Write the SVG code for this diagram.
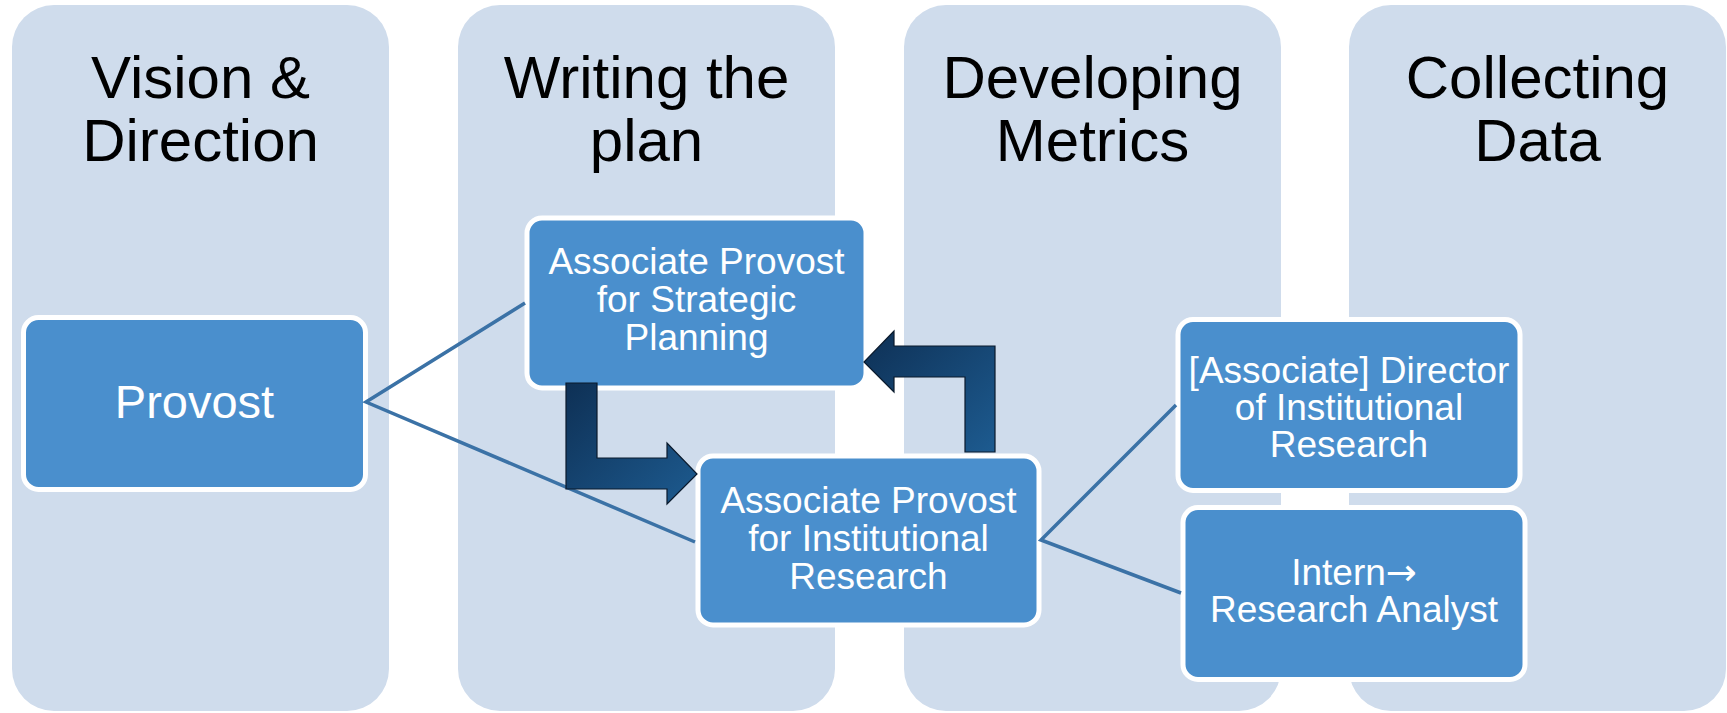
<svg xmlns="http://www.w3.org/2000/svg" width="1727" height="713" viewBox="0 0 1727 713">
<defs>
<style>
.col{fill:#cfdcec;}
.title{font-family:"Liberation Sans",Arial,sans-serif;font-size:60px;fill:#000;text-anchor:middle;}
.box{fill:#4a8fcd;stroke:#ffffff;stroke-width:5;}
.lbl{font-family:"Liberation Sans",Arial,sans-serif;font-size:37px;fill:#ffffff;text-anchor:middle;}
.arr{font-family:"DejaVu Sans",sans-serif;}
.line{fill:none;stroke:#3b72a6;stroke-width:3.5;}
.barrow{fill:url(#grad);stroke:#0a1a2c;stroke-width:1.2;stroke-linejoin:miter;}
</style>
<linearGradient id="grad" x1="0" y1="0" x2="1" y2="1">
<stop offset="0" stop-color="#0e3055"/>
<stop offset="1" stop-color="#1d5b90"/>
</linearGradient>
</defs>
<rect width="1727" height="713" fill="#ffffff"/>
<g id="col-vision">
<rect class="col" x="12" y="5" width="377" height="706" rx="42"/>
<text class="title" x="200.5" y="98">Vision &amp;</text>
<text class="title" x="200.5" y="161">Direction</text>
</g>
<g id="col-writing">
<rect class="col" x="458" y="5" width="377" height="706" rx="42"/>
<text class="title" x="646.5" y="98">Writing the</text>
<text class="title" x="646.5" y="161">plan</text>
</g>
<g id="col-metrics">
<rect class="col" x="904" y="5" width="377" height="706" rx="42"/>
<text class="title" x="1092.5" y="98">Developing</text>
<text class="title" x="1092.5" y="161">Metrics</text>
</g>
<g id="col-data">
<rect class="col" x="1349" y="5" width="377" height="706" rx="42"/>
<text class="title" x="1537.5" y="98">Collecting</text>
<text class="title" x="1537.5" y="161">Data</text>
</g>
<g id="node-provost">
<rect class="box" x="23.5" y="317.5" width="342" height="172" rx="15"/>
<text class="lbl" x="194.5" y="418" style="font-size:47px">Provost</text>
</g>
<g id="node-apsp">
<rect class="box" x="527" y="218" width="339" height="170" rx="15"/>
<text class="lbl" x="696.5" y="274">Associate Provost</text>
<text class="lbl" x="696.5" y="312">for Strategic</text>
<text class="lbl" x="696.5" y="350">Planning</text>
</g>
<g id="node-apir">
<rect class="box" x="698" y="456" width="341" height="169" rx="15"/>
<text class="lbl" x="868.5" y="513">Associate Provost</text>
<text class="lbl" x="868.5" y="551">for Institutional</text>
<text class="lbl" x="868.5" y="589">Research</text>
</g>
<g id="node-director">
<rect class="box" x="1178" y="319.5" width="342" height="171" rx="15"/>
<text class="lbl" x="1349" y="383">[Associate] Director</text>
<text class="lbl" x="1349" y="420">of Institutional</text>
<text class="lbl" x="1349" y="457">Research</text>
</g>
<g id="node-intern">
<rect class="box" x="1183" y="507.5" width="342" height="172" rx="15"/>
<text class="lbl" x="1354" y="585">Intern<tspan class="arr">→</tspan></text>
<text class="lbl" x="1354" y="622">Research Analyst</text>
</g>
<g id="connectors">
<polyline class="line" points="525,303 366,402 695,542"/>
<polyline class="line" points="1176,405 1041,540 1181,593"/>
<polygon class="barrow" points="566,383 597,383 597,458 667,458 667,443 697,474 667,504 667,489 566,489"/>
<polygon class="barrow" points="995,452 965,452 965,377 894,377 894,392 864,362 894,331 894,346 995,346"/>
</g>
</svg>
